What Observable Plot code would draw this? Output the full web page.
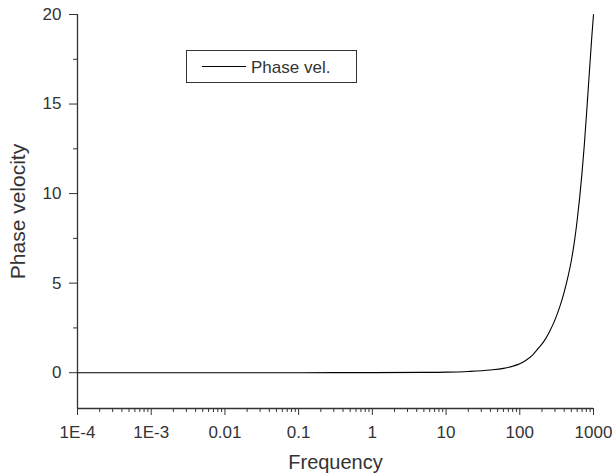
<!DOCTYPE html>
<html>
<head>
<meta charset="utf-8">
<script src="https://cdn.jsdelivr.net/npm/d3@7"></script>
<script src="https://cdn.jsdelivr.net/npm/@observablehq/plot@0.6"></script>
<style>
  html, body { margin: 0; padding: 0; background: #fff; }
  #chart { position: relative; width: 612px; height: 476px; }
  svg { font-family: "Liberation Sans", Arial, sans-serif; }
</style>
</head>
<body>
<div id="chart"></div>
<script>
// Data
const frequency = [1e-4, 1e-3, 0.01, 0.1, 1, 5, 10, 20, 40, 60, 80, 100, 120, 150, 180, 210, 250, 300, 350, 400, 450, 500, 550, 600, 650, 700, 750, 800, 850, 900, 950, 1000];
const phaseVel  = [0, 0, 0, 0, 0.003, 0.015, 0.03, 0.07, 0.15, 0.24, 0.36, 0.5, 0.68, 1.0, 1.38, 1.72, 2.25, 2.95, 3.7, 4.5, 5.35, 6.25, 7.3, 8.5, 9.8, 11.2, 12.7, 14.3, 15.9, 17.4, 18.8, 20];

const xMajorTicks = [1e-4, 1e-3, 0.01, 0.1, 1, 10, 100, 1000];
const xTickLabels = ["1E-4", "1E-3", "0.01", "0.1", "1", "10", "100", "1000"];
const yMajorTicks = [0, 5, 10, 15, 20];
const yMinorTicks = [2.5, 7.5, 12.5, 17.5];
const seriesName = "Phase vel.";
const xTitle = "Frequency";
const yTitle = "Phase velocity";

const xMinorTicks = [];
for (let e = -4; e < 3; e++) for (let m = 2; m <= 9; m++) xMinorTicks.push(+(m * Math.pow(10, e)).toPrecision(6));

const data = frequency.map((f, i) => ({f, v: phaseVel[i]}));
const labelOf = new Map(xMajorTicks.map((t, i) => [t, xTickLabels[i]]));

const ink = "#333";
const plot = Plot.plot({
  width: 612,
  height: 476,
  marginLeft: 77,
  marginRight: 19,
  marginTop: 14,
  marginBottom: 68,
  style: {fontFamily: '"Liberation Sans", Arial, sans-serif', color: ink, background: "#fff"},
  x: {type: "log", domain: [1e-4, 1000]},
  y: {domain: [-2, 20]},
  marks: [
    Plot.axisX(xMinorTicks, {tickSize: 4, tickFormat: () => "", label: null, stroke: ink}),
    Plot.axisX(xMajorTicks, {tickSize: 7, tickPadding: 10, fontSize: 17, tickFormat: d => labelOf.get(d),
      label: xTitle, labelAnchor: "center", labelArrow: "none", labelOffset: 60, stroke: ink}),
    Plot.axisY(yMinorTicks, {tickSize: 4, tickFormat: () => "", label: null, stroke: ink}),
    Plot.axisY(yMajorTicks, {tickSize: 8, tickPadding: 8, fontSize: 17,
      label: yTitle, labelAnchor: "center", labelArrow: "none", labelOffset: 67, stroke: ink}),
    Plot.ruleX([1e-4], {stroke: ink, strokeWidth: 1.3}),
    Plot.ruleY([-2], {stroke: ink, strokeWidth: 1.3}),
    Plot.line(data, {x: "f", y: "v", stroke: "#000", strokeWidth: 1.1, curve: "monotone-x"})
  ]
});
document.getElementById("chart").appendChild(plot);

// enlarge axis titles
d3.select(plot).selectAll("g[aria-label='x-axis label'] text").style("font-size", "20px");
d3.select(plot).selectAll("g[aria-label='y-axis label'] text").style("font-size", "21px");

// legend box inside the plot area
const svg = d3.select(plot);
const lg = svg.append("g").attr("class", "legend");
lg.append("rect").attr("x", 186.5).attr("y", 50.5).attr("width", 170).attr("height", 32)
  .attr("fill", "#fff").attr("stroke", ink).attr("stroke-width", 1);
lg.append("line").attr("x1", 202).attr("x2", 246).attr("y1", 66.5).attr("y2", 66.5)
  .attr("stroke", "#000").attr("stroke-width", 1.1);
lg.append("text").attr("x", 251).attr("y", 72.5).attr("fill", ink).attr("text-anchor", "start")
  .style("font-size", "17px").text(seriesName);
</script>
</body>
</html>
